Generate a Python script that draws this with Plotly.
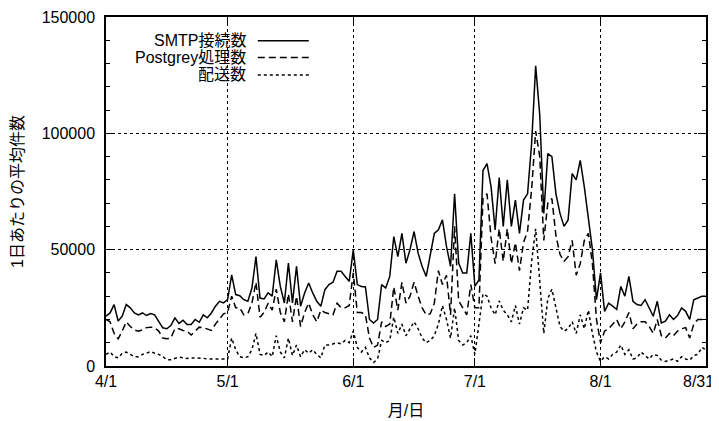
import plotly.graph_objects as go

# Day index from 4/1 (0) ; values in thousands of messages per day
tick_days = [0, 30, 61, 91, 122, 148]
tick_labels = ["4/1", "5/1", "6/1", "7/1", "8/1", "8/31"]

smtp_k = [21.4,22.8,26.4,19.3,21.4,26.4,25,22.8,22,22.8,
          21.7,22.5,22,19.3,16.4,16,17.4,20.7,18.3,19.7,
          17.8,17.8,20,18.8,22,20.7,22.8,25.7,27.8,27.1,
          28.5,39.2,30.7,30.2,28.5,27.8,33.5,47,29.2,28.8,
          31.4,30,45.6,34.2,27.1,44.2,27.1,42.8,25.7,31.4,
          35.7,31.4,27.8,25.7,32.8,35,36,40.7,40.7,38.5,
          36.4,49.9,35,34.2,34,20,18.5,20,35,33.5,
          38.5,55.6,47,57,44.2,50,57.8,48.5,42.8,38.5,
          48.5,57,58.5,62.8,51.4,42.8,74,44.2,40,40,
          57,34.2,37,84,87,77,58.5,81,60,80,
          60,71.3,57,71.3,74,95.6,129,108,65.6,91.3,
          90,74,65.6,60,62.8,82.7,80,88.4,77,62.8,
          50,28.5,40,23.5,27,25.7,24.3,34.2,30,38.5,
          27.8,26.4,26,28.5,25,21.4,27.8,18.5,19.3,22,
          20,21.7,25,23.5,20,28.5,29.2,30,30]

postgrey_k = [20,19,14,11.7,15,19,17,15.5,15,15.5,
              16.5,16.7,16.5,15,12,11.7,12,16,16,15.3,
              15,13.3,15,16.7,16.5,16,15.3,18,20.3,22.4,
              23,30,25,25,22,22.5,27,36,21,23,
              27,24,33,23,19,31,19,30,17,23,
              27,22,19,24,23,22.5,22,27,25,25,
              26,40,23,23,22,12,8,9,19,17,
              18,34,24,36,27,30,36,30,25,22,
              22.5,27,41,35,39,22,60,28,25,22,
              35,25,25,72,74,55,44,59,45,59,
              44,53,41,53,58,76,101,90,54,70,
              72,56,48,45,47,54,39,44,54,57,
              44,20,10,15,16,18,20,16,19,23,
              16,18,19,19,17,14,20,13,12,14,
              13,15,16,16.5,12,18,20,20,20]

delivery_k = [5,6,4,3.5,5.5,6,5,4,4,5,
              5.5,6.3,5.5,5,4,2.7,2.7,3.2,3.8,3.5,
              3.2,3.5,3.5,3.2,3.3,3,3,3,3,2.8,
              3,12,7,4,3.5,4,7,14,5,4.5,
              6,4,13,6,3.5,12,4.5,9,4,7,
              5.5,7,5,3.5,9,9,9.5,10,9.5,11,
              10,15,8,6,8,3.5,1.5,3,11,10,
              11,21,14,18,13,16,19,16,12,10,
              11,13,18,26,20,12,25,11,9,10,
              13,5,17,31,30,25,22,28,24,22,
              19,26,18,25,24,45,59,38,14,29,
              33,25,17,15,16,19,14,22,16,24,
              14,6,2,4,3,5,6,9,5,7,
              3,3.5,6,4.5,3,5,4.5,2.5,2,2.5,
              3,2,4,3,2.5,4.5,5,8,7]

series_names = ["SMTP接続数", "Postgrey処理数", "配送数"]
series_dash = ["solid", "7px,4px", "3px,3px"]

days = list(range(len(smtp_k)))
FONT = "Liberation Sans, Arial, Noto Sans CJK JP, sans-serif"

fig = go.Figure()
for name, vals, dash in zip(series_names, [smtp_k, postgrey_k, delivery_k], series_dash):
    fig.add_trace(go.Scatter(
        x=days, y=[v * 1000 for v in vals], mode="lines", name=name,
        line=dict(color="black", width=1.5, dash=dash), showlegend=False))

# gnuplot-style key: right-aligned text followed by line sample
key_y = [0.932, 0.884, 0.834]
for name, dash, yy in zip(series_names, series_dash, key_y):
    fig.add_annotation(x=0.236, y=yy, xref="paper", yref="paper", text=name,
                       showarrow=False, xanchor="right", yanchor="middle",
                       font=dict(family=FONT, size=16, color="black"))
    fig.add_shape(type="line", xref="paper", yref="paper", x0=0.253, x1=0.338,
                  y0=yy, y1=yy, line=dict(color="black", width=1.4, dash=dash))

# last tick label sits at the page edge: draw it right-aligned so it stays whole
shown_labels = tick_labels[:-1] + [""]
fig.add_annotation(x=1, y=0, xref="paper", yref="paper", text=tick_labels[-1],
                   showarrow=False, xanchor="right", yanchor="middle",
                   xshift=9, yshift=-15, borderpad=0,
                   font=dict(family=FONT, size=16, color="black"))

fig.update_xaxes(
    range=[0, 148.02], tickmode="array", tickvals=tick_days, ticktext=shown_labels,
    ticks="inside", ticklen=8, tickwidth=1.2, tickcolor="black",
    showline=True, linecolor="black", linewidth=1.5, mirror="allticks",
    showgrid=True, gridcolor="black", griddash="dot", gridwidth=1,
    zeroline=False, tickfont=dict(family=FONT, size=16, color="black"),
    automargin=False, ticklabeloverflow="allow",
    title=dict(text="月/日", font=dict(family=FONT, size=16, color="black"), standoff=16),
)
fig.update_yaxes(
    range=[0, 150000], tickmode="array", tickvals=[0, 50000, 100000, 150000],
    ticktext=["0", "50000", "100000", "150000"],
    ticks="inside", ticklen=8, tickwidth=1.2, tickcolor="black",
    minor=dict(dtick=10000, tick0=0, ticks="inside", ticklen=4, tickcolor="black", showgrid=False),
    showline=True, linecolor="black", linewidth=1.5, mirror="allticks",
    showgrid=True, gridcolor="black", griddash="dot", gridwidth=1,
    zeroline=False, tickfont=dict(family=FONT, size=16, color="black"),
    ticklabelstandoff=6, automargin=False,
    title=dict(text="1日あたりの平均件数", font=dict(family=FONT, size=16, color="black"), standoff=14),
)
fig.update_layout(
    width=711, height=413,
    margin=dict(l=98, r=13, t=9, b=55),
    plot_bgcolor="white", paper_bgcolor="white",
    font=dict(family=FONT, size=16, color="black"),
)
fig.write_html("out.html")
